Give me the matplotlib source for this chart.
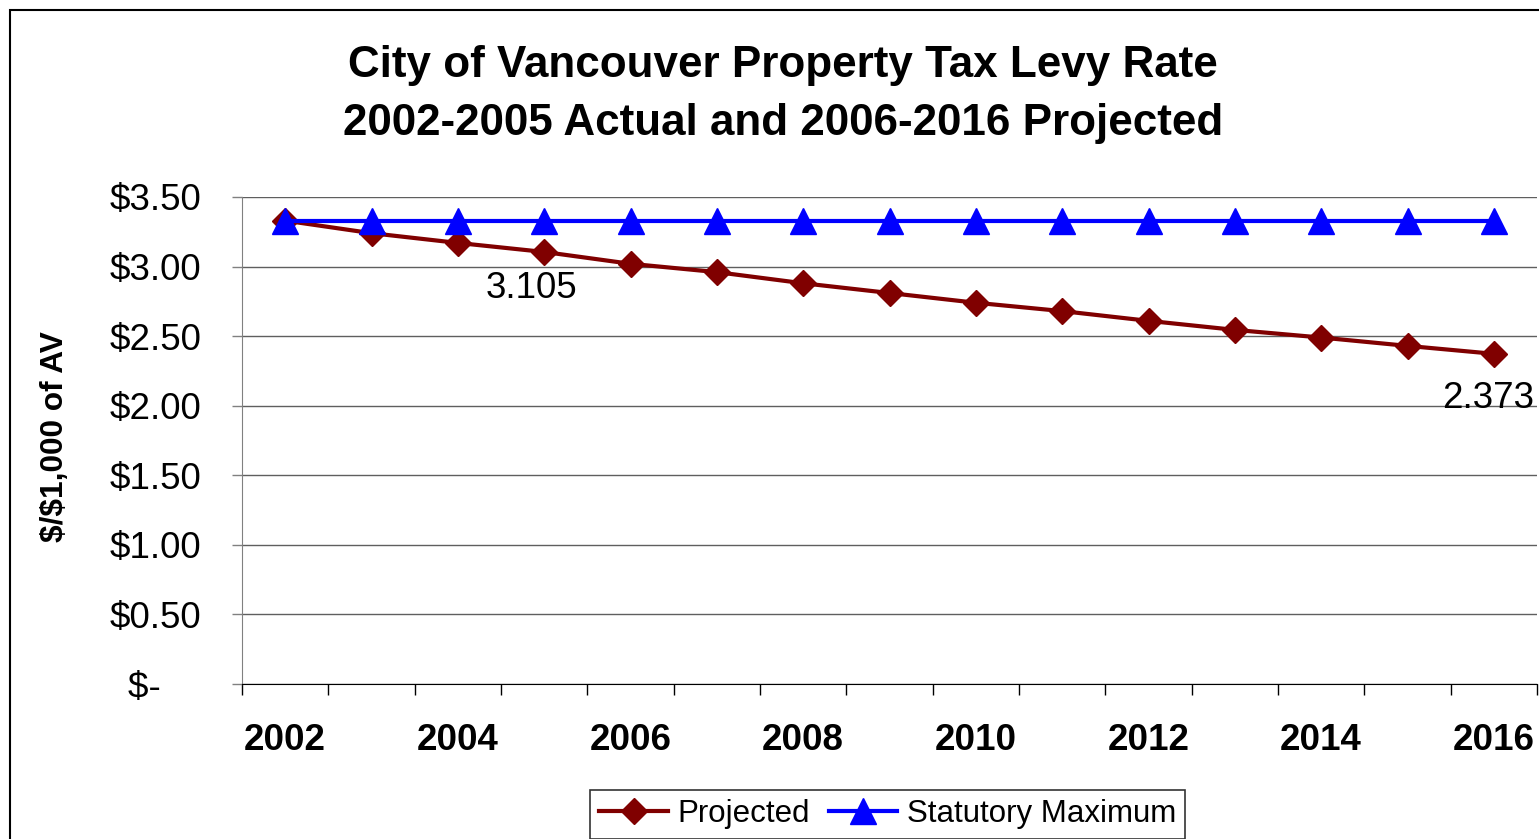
import matplotlib
matplotlib.use("Agg")
import matplotlib.pyplot as plt
from matplotlib.patches import Rectangle
import numpy as np

plt.rcParams["font.family"] = ["Liberation Sans", "DejaVu Sans"]

# data
years = list(range(2002, 2017))
projected = [3.33, 3.24, 3.17, 3.105, 3.02, 2.96, 2.88, 2.81, 2.74, 2.68,
             2.61, 2.545, 2.49, 2.43, 2.373]
statutory_max = [3.33] * len(years)
y_ticks = [0, 0.5, 1.0, 1.5, 2.0, 2.5, 3.0, 3.5]
y_tick_labels = ["$-    ", "$0.50", "$1.00", "$1.50", "$2.00", "$2.50", "$3.00", "$3.50"]
labelled = {3.105: 2005, 2.373: 2016}

W, H = 1539, 839
fig = plt.figure(figsize=(W / 100, H / 100), dpi=100)
ax = fig.add_axes([242 / W, 1 - 684 / H, (1537 - 242) / W, (684 - 197) / H])

x = np.arange(len(years))
ax.plot(x, projected, color="#800000", lw=3, marker="D", ms=13, label="Projected", zorder=3)
ax.plot(x, statutory_max, color="#0000FF", lw=3, marker="^", ms=19, label="Statutory Maximum", zorder=4)

ax.set_xlim(-0.5, len(years) - 0.5)
ax.set_ylim(0, 3.5)

# y axis
ax.set_yticks(y_ticks)
ax.set_yticklabels(y_tick_labels, fontsize=26.5)
ax.tick_params(axis="y", direction="out", length=7, width=1, color="#808080", pad=22)
ax.grid(axis="y", color="#5f5f5f", lw=1)
ax.set_axisbelow(True)

# x axis: tick marks between categories, labels on every other year
ax.set_xticks(np.arange(-0.5, len(years), 1))
ax.set_xticklabels([])
ax.tick_params(axis="x", which="major", direction="out", length=8, width=1, color="black")
ax.set_xticks(x[::2], minor=True)
ax.set_xticklabels([str(y) for y in years[::2]], minor=True, fontsize=26.5, fontweight="bold")
ax.tick_params(axis="x", which="minor", length=0, pad=28)

for s in ["top", "right"]:
    ax.spines[s].set_visible(False)
ax.spines["left"].set_color("#808080")
ax.spines["bottom"].set_color("black")

# value labels
for val, yr in labelled.items():
    i = years.index(yr)
    off = (-9, -26) if yr == 2005 else (-4, -32)
    ax.annotate(f"{val:g}", (x[i], val), xytext=off, textcoords="offset points",
                ha="center", va="center", fontsize=26.5)

fig.text(783 / W, 1 - 66 / H, "City of Vancouver Property Tax Levy Rate",
         ha="center", va="center", fontsize=31.7, fontweight="bold")
fig.text(783 / W, 1 - 123 / H, "2002-2005 Actual and 2006-2016 Projected",
         ha="center", va="center", fontsize=31.7, fontweight="bold")
fig.text(55 / W, 1 - 437 / H, "\\$/\\$1,000 of AV", rotation=90, ha="center", va="center",
         fontsize=22.8, fontweight="bold")

leg = fig.legend(loc="upper center", bbox_to_anchor=(887.5 / W, 1 - 790 / H), ncol=2,
                 fontsize=22.5, frameon=True, fancybox=False, edgecolor="black",
                 handlelength=2.2, handletextpad=0.3, columnspacing=0.6,
                 borderpad=0.3, borderaxespad=0)
leg.get_frame().set_linewidth(1.2)

fig.patches.append(Rectangle((10 / W, -0.1), 1.2, 1 - 10 / H + 0.1, transform=fig.transFigure,
                             fill=False, edgecolor="black", lw=1.5))

fig.savefig("out.png", dpi=100)
